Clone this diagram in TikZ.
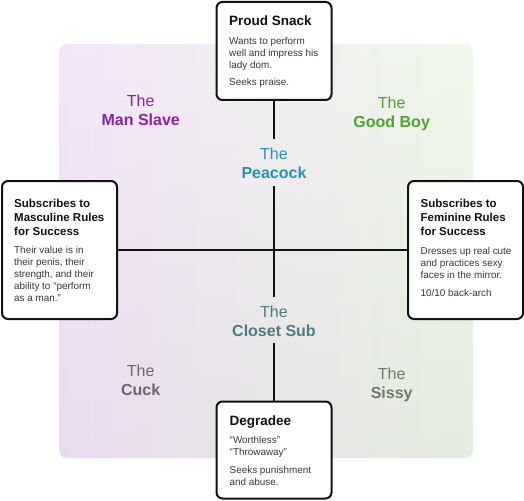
\documentclass[tikz,border=0pt]{standalone}
\usepackage{fontspec}
\setmainfont{Liberation Sans}
\definecolor{cMan}{HTML}{8A22A6}
\definecolor{cGood}{HTML}{4CA52A}
\definecolor{cPea}{HTML}{2494B4}
\definecolor{cClo}{HTML}{4A7E80}
\definecolor{cCuck}{HTML}{6C6474}
\definecolor{cSis}{HTML}{6E7A6A}
\definecolor{bgL}{HTML}{F3E3F9}
\definecolor{bgM}{HTML}{EFEDEF}
\definecolor{bgR}{HTML}{EDF7E7}
\definecolor{ink}{HTML}{111111}
\begin{document}
\begin{tikzpicture}[x=1pt,y=-1pt,
  box/.style={draw=ink, line width=2pt, fill=white, rounded corners=6pt, inner sep=0pt, outer sep=0pt, anchor=north west},
  bigttl/.style={font=\fontsize{13.5}{16}\selectfont\bfseries, anchor=north west, inner sep=0pt, align=left, text=ink},
  sidettl/.style={font=\fontsize{11.5}{14}\selectfont\bfseries, anchor=north west, inner sep=0pt, align=left, text=ink},
  bdy/.style={font=\fontsize{9.9}{12}\selectfont, anchor=north west, inner sep=0pt, align=left, text=ink!85},
  qlab/.style={font=\fontsize{16}{19}\selectfont, anchor=north, inner sep=0pt, outer sep=0pt, align=center},
  ln/.style={draw=ink, line width=2.4pt}]
\useasboundingbox (0,0) rectangle (524,500);
% background panel
\shade[rounded corners=8pt, left color=bgL, middle color=bgM, right color=bgR] (59,44) rectangle (473,458);
\shade[rounded corners=8pt, top color=white, bottom color=black!35, opacity=0.12] (59,44) rectangle (473,458);
% boxes
\node[box, minimum width=115pt, minimum height=98pt] (tb) at (216.5,2) {};
\node[box, minimum width=115pt, minimum height=138pt] (lb) at (2,181) {};
\node[box, minimum width=115pt, minimum height=138pt] (rb) at (408,181) {};
\node[box, minimum width=115pt, minimum height=97pt] (bb) at (216.5,401.5) {};
% box texts
\node[bigttl] (tbt) at (229,14.5) {\strut Proud Snack};
\node[bdy] (tbb1) at (229,35.9) {\strut Wants to perform\\well and impress his\\lady dom.};
\node[bdy] (tbb2) at (229,76.6) {\strut Seeks praise.};
\node[sidettl] (lbt) at (14,197.2) {\strut Subscribes to\\Masculine Rules\\for Success};
\node[bdy] (lbb) at (14,245) {\strut Their value is in\\their penis, their\\strength, and their\\ability to “perform\\as a man.”};
\node[sidettl] (rbt) at (420.5,197.2) {\strut Subscribes to\\Feminine Rules\\for Success};
\node[bdy] (rbb1) at (420.5,245.4) {\strut Dresses up real cute\\and practices sexy\\faces in the mirror.};
\node[bdy] (rbb2) at (420.5,287.6) {\strut 10/10 back-arch};
\node[bigttl] (bbt) at (229.5,413.8) {\strut Degradee};
\node[bdy] (bbb1) at (229.5,435.1) {\strut “Worthless”\\“Throwaway”};
\node[bdy] (bbb2) at (229.5,464.6) {\strut Seeks punishment\\and abuse.};
% quadrant labels
\node[qlab, text=cMan] (man) at (140.7,93.4) {\strut The\\\textbf{Man Slave}};
\node[qlab, text=cGood] (good) at (391.7,95.7) {\strut The\\\textbf{Good Boy}};
\node[qlab, text=cPea] (pea) at (274,146) {\strut The\\\textbf{Peacock}};
\node[qlab, text=cClo] (clo) at (274,304.4) {\strut The\\\textbf{Closet Sub}};
\node[qlab, text=cCuck] (cuck) at (140.7,363.4) {\strut The\\\textbf{Cuck}};
\node[qlab, text=cSis] (sissy) at (391.7,365.7) {\strut The\\\textbf{Sissy}};
% connectors
\draw[ln, shorten >=7.5pt] (tb.south) -- (pea.north);
\draw[ln, shorten <=7.5pt, shorten >=7.5pt] (pea.south) -- (clo.north);
\draw[ln, shorten <=6.5pt] (clo.south) -- (bb.north);
\draw[ln] (lb.east) -- (rb.west);
\end{tikzpicture}
\end{document}
